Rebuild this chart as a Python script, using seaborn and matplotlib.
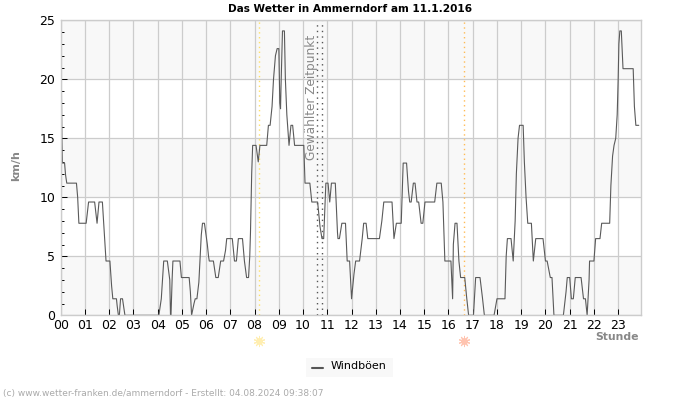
import numpy as np
import pandas as pd
import matplotlib
matplotlib.use("Agg")
import matplotlib.pyplot as plt
import seaborn as sns

hours = [0.03,0.05,0.07,0.16,0.2,0.25,0.65,0.7,0.75,1.05,1.15,1.4,1.5,1.58,1.72,1.8,1.83,1.87,2.03,2.1,2.15,2.3,2.33,2.38,2.42,2.47,2.55,2.65,
 4.05,4.15,4.25,4.4,4.5,4.53,4.55,4.6,4.63,4.92,4.98,5.3,5.35,5.4,5.5,5.55,5.62,5.7,5.8,5.85,5.93,6.05,6.1,6.13,6.3,6.4,6.5,6.6,6.72,6.8,6.85,
 7.08,7.17,7.25,7.33,7.5,7.58,7.67,7.75,7.8,7.83,7.88,7.92,8.06,8.15,8.22,8.5,8.57,8.64,8.72,8.78,8.86,8.93,9.0,9.04,9.07,9.09,9.15,9.23,9.27,9.33,9.42,9.5,9.57,9.65,
 10.03,10.08,10.28,10.36,10.6,10.7,10.78,10.85,10.9,10.94,11.03,11.1,11.17,11.33,11.42,11.44,11.5,11.6,11.75,11.82,11.92,12.0,12.1,12.17,12.33,12.44,12.5,12.6,12.67,
 13.15,13.25,13.33,13.67,13.75,13.85,14.05,14.13,14.27,14.35,14.4,14.46,14.55,14.62,14.7,14.77,14.87,14.94,15.03,15.43,15.52,15.7,15.77,15.85,16.1,16.17,16.2,16.27,16.35,16.43,16.5,16.67,16.75,16.83,
 17.03,17.12,17.3,17.4,17.48,17.88,18.0,18.33,18.38,18.43,18.58,18.67,18.75,18.8,18.87,18.93,19.08,19.13,19.2,19.27,19.42,19.5,19.6,19.9,20.0,20.07,20.2,20.27,20.35,20.74,20.85,20.9,21.0,21.07,21.15,21.23,21.47,21.57,21.65,21.72,21.8,21.82,22.0,22.07,22.25,22.32,22.65,22.7,22.77,22.83,22.9,22.96,23.0,23.03,23.07,23.13,23.2,23.62,23.67,23.73,23.85]
gusts = [19,15,12.9,12.9,11.9,11.2,11.2,10,7.8,7.8,9.6,9.6,7.8,9.6,9.6,7,6,4.6,4.6,2.5,1.4,1.4,0.8,0,0,1.4,1.4,0,
 0,1.4,4.6,4.6,3,0,0,3.2,4.6,4.6,3.2,3.2,2,0,1,1.4,1.4,2.8,6.8,7.8,7.8,6,5,4.6,4.6,3.2,3.2,4.6,4.6,5.5,6.5,
 6.5,4.6,4.6,6.5,6.5,4.6,3.2,3.2,5,7,12,14.4,14.4,13,14.4,14.4,16.1,16.1,17.7,20,22,22.6,22.6,18,17.5,19.4,24.1,24.1,20,17,14.4,16.1,16.1,14.4,
 14.4,11.2,11.2,9.6,9.6,7.5,6.5,6.5,9,11.2,11.2,9.6,11.2,11.2,7,6.5,6.5,7.8,7.8,4.6,4.6,1.4,3.5,4.6,4.6,6.5,7.8,7.8,6.5,
 6.5,8,9.6,9.6,6.5,7.8,7.8,12.9,12.9,10.5,9.6,9.6,11.2,11.2,9.6,9.6,7.8,7.8,9.6,9.6,11.2,11.2,9.6,4.6,4.6,1.4,6,7.8,7.8,4.6,3.2,3.2,1.5,0,
 0,3.2,3.2,1.5,0,0,1.4,1.4,5,6.5,6.5,4.6,8,12,15,16.1,16.1,13,10,7.8,7.8,4.6,6.5,6.5,4.6,4.6,3.2,3.2,0,0,2,3.2,3.2,1.4,1.4,3.2,3.2,1.4,1.4,0,3,4.6,4.6,6.5,6.5,7.8,7.8,11,13.5,14.4,15,17,20,23,24.1,24.1,20.9,20.9,17.7,16.1,16.1]
hour_labels = [f"{h:02d}" for h in range(24)]
y_ticks = [0, 5, 10, 15, 20, 25]
sunrise = 8.17
sunset = 16.65
selected = [10.58, 10.77]

sns.set_theme(style="white")
plt.rcParams['font.family'] = ['DejaVu Sans']

fig = plt.figure(figsize=(7, 4), dpi=100)
ax = fig.add_axes([60.7/700, 1-315.3/400, 580/700, 295/400])
df = pd.DataFrame({"Stunde": hours, "Windböen": gusts})

for lo in (0, 10, 20):
    ax.axhspan(lo, lo+5, color="#f8f8f8", lw=0, zorder=0)
ax.set_xlim(0, 23.93)
ax.set_ylim(0, 25)
ax.set_xticks(range(24), hour_labels)
ax.set_yticks(y_ticks)
ax.set_yticks(range(26), minor=True)
ax.grid(True, which="major", color="#cccccc", lw=0.9)
ax.set_axisbelow(True)
for s in ax.spines.values():
    s.set_color("#cccccc"); s.set_linewidth(1); s.set_zorder(6)
ax.tick_params(axis="x", which="major", direction="in", length=4.5, width=0.7, color="black",
               labelsize=9, pad=3, labelcolor="black", bottom=True)
ax.tick_params(axis="y", which="major", direction="in", length=4.5, width=0.7, color="black",
               labelsize=9, pad=4, labelcolor="black", left=True)
ax.tick_params(axis="y", which="minor", direction="in", length=2, width=0.7, color="black", left=True)

sns.lineplot(data=df, x="Stunde", y="Windböen", ax=ax, color="#5a5a5a", lw=0.8,
             estimator=None, errorbar=None, legend=False, zorder=3)
ax.set_xlabel("")
ax.set_ylabel("")

ax.axvline(sunrise, color="#ffe066", lw=1, ls=(0, (1, 2.5)), zorder=2)
ax.axvline(sunset, color="#ffbb55", lw=1, ls=(0, (1, 2.5)), zorder=2)
for t in selected:
    ax.axvline(t, color="#555555", lw=1, ls=(0, (1, 3)), zorder=2)

ax.text(10.36, 13.2, "Gewählter Zeitpunkt", rotation=90, ha="center", va="bottom",
        fontsize=8.7, color="#888888", zorder=4)

fig.text(350/700, 1-9/400, "Das Wetter in Ammerndorf am 11.1.2016", ha="center", va="center",
         fontsize=7.6, fontweight="bold", color="black")
fig.text(16/700, 1-166/400, "km/h", rotation=90, ha="center", va="center", fontsize=8,
         fontweight="bold", color="#888888")
fig.text(639/700, 1-337/400, "Stunde", ha="right", va="center", fontsize=7.8,
         fontweight="bold", color="#888888")
fig.text(3/700, 1-393.5/400, "(c) www.wetter-franken.de/ammerndorf - Erstellt: 04.08.2024 09:38:07",
         ha="left", va="center", fontsize=6.5, color="#aaaaaa")

trans = ax.get_xaxis_transform()
for t, c in ((sunrise, "#ffeeb0"), (sunset, "#ffc4b0")):
    ax.plot([t], [-0.0883], marker="o", ms=4, color=c, mec=c, transform=trans, clip_on=False, zorder=5)
    ax.plot([t], [-0.0883], marker=(10, 2, 0), ms=8, mew=0.7, color=c, mec=c, transform=trans, clip_on=False, zorder=5)

fig.patches.append(plt.Rectangle((306/700, 1-377/400), 87/700, 19/400, transform=fig.transFigure,
                                 facecolor="#f8f8f8", edgecolor="none"))
fig.add_artist(plt.Line2D([312/700, 323/700], [1-367.5/400]*2, color="#555555", lw=1.5))
fig.text(331/700, 1-366/400, "Windböen", ha="left", va="center", fontsize=8, color="black")

fig.savefig("out.png", dpi=100)
